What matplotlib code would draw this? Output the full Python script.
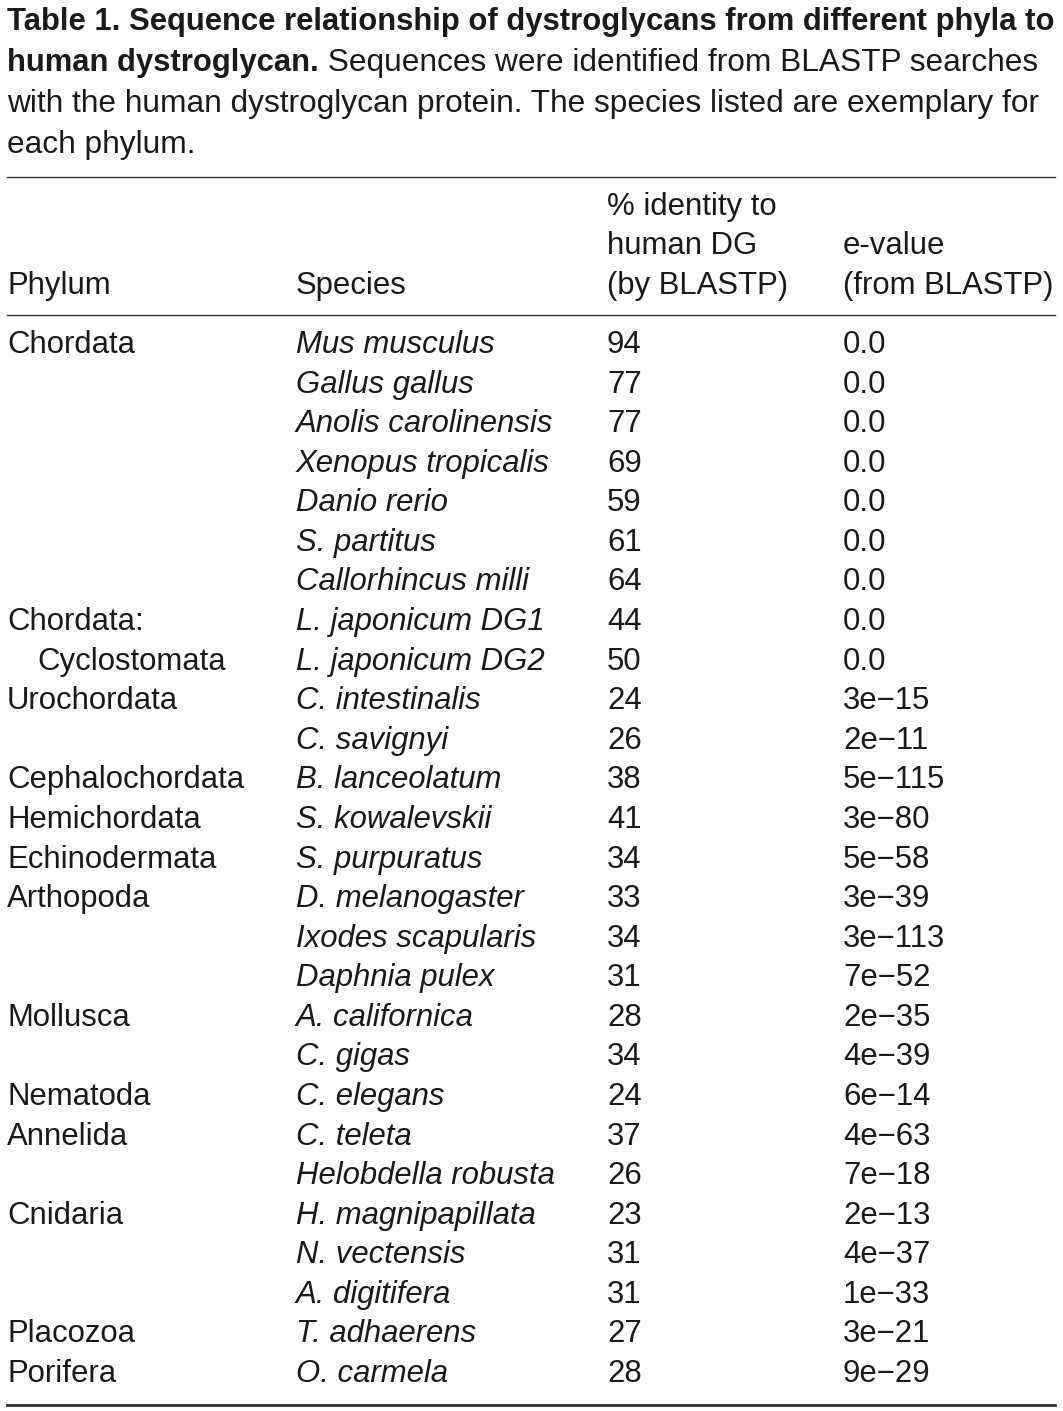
import matplotlib
matplotlib.use("Agg")
import matplotlib.pyplot as plt
from matplotlib.lines import Line2D

# --- Table data ---
phyla = ["Chordata", "", "", "", "", "", "",
         "Chordata:", "  Cyclostomata",
         "Urochordata", "",
         "Cephalochordata", "Hemichordata", "Echinodermata",
         "Arthopoda", "", "",
         "Mollusca", "",
         "Nematoda",
         "Annelida", "",
         "Cnidaria", "", "",
         "Placozoa", "Porifera"]
species = ["Mus musculus", "Gallus gallus", "Anolis carolinensis", "Xenopus tropicalis",
           "Danio rerio", "S. partitus", "Callorhincus milli",
           "L. japonicum DG1", "L. japonicum DG2",
           "C. intestinalis", "C. savignyi",
           "B. lanceolatum", "S. kowalevskii", "S. purpuratus",
           "D. melanogaster", "Ixodes scapularis", "Daphnia pulex",
           "A. californica", "C. gigas",
           "C. elegans",
           "C. teleta", "Helobdella robusta",
           "H. magnipapillata", "N. vectensis", "A. digitifera",
           "T. adhaerens", "O. carmela"]
identity = [94, 77, 77, 69, 59, 61, 64, 44, 50, 24, 26, 38, 41, 34, 33, 34, 31,
            28, 34, 24, 37, 26, 23, 31, 31, 27, 28]
evalues = ["0.0", "0.0", "0.0", "0.0", "0.0", "0.0", "0.0", "0.0", "0.0",
           "3e\u221215", "2e\u221211", "5e\u2212115", "3e\u221280", "5e\u221258",
           "3e\u221239", "3e\u2212113", "7e\u221252", "2e\u221235", "4e\u221239",
           "6e\u221214", "4e\u221263", "7e\u221218", "2e\u221213", "4e\u221237",
           "1e\u221233", "3e\u221221", "9e\u221229"]

title_bold_1 = "Table 1. Sequence relationship of dystroglycans from different phyla to"
title_bold_2 = "human dystroglycan."
title_rest_2 = " Sequences were identified from BLASTP searches"
title_lines = ["with the human dystroglycan protein. The species listed are exemplary for",
               "each phylum."]

W, H = 1063, 1411
plt.rcParams["font.family"] = ["Liberation Sans", "DejaVu Sans"]
FS = 22.4        # table body
FS_CAP = 22.8    # caption, regular
FS_BOLD = 22.3   # caption, bold

fig = plt.figure(figsize=(W / 100, H / 100), dpi=100)
fig.patch.set_facecolor("white")


def px(x, y):
    return x / W, 1 - y / H


def put(x, y, s, **kw):
    kw.setdefault("fontsize", FS)
    kw.setdefault("va", "center")
    kw.setdefault("color", "#1a1a1a")
    return fig.text(*px(x, y + 2), s, **kw)


def hline(y, lw=1.0):
    x0, y0 = px(7, y)
    x1, _ = px(1055, y)
    fig.add_artist(Line2D([x0, x1], [y0, y0], transform=fig.transFigure,
                          color="#333333", lw=lw))


# --- Caption ---
put(7, 20, title_bold_1, fontweight="bold", fontsize=FS_BOLD)
t = put(7, 61, title_bold_2, fontweight="bold", fontsize=FS_BOLD)
r = fig.canvas.get_renderer()
bb = t.get_window_extent(renderer=r)
put(bb.x1, 61, title_rest_2, fontsize=FS_CAP)
put(7, 102, title_lines[0], fontsize=FS_CAP)
put(7, 143, title_lines[1], fontsize=FS_CAP)

# --- Rules ---
hline(177, 1.0)
hline(315, 1.0)
hline(1405, 2.0)

# --- Header ---
cols = [7, 296, 607, 843]
put(cols[0], 284, "Phylum")
put(cols[1], 284, "Species")
put(cols[2], 205, "% identity to")
put(cols[2], 244, "human DG")
put(cols[2], 284, "(by BLASTP)")
put(cols[3], 244, "e-value")
put(cols[3], 284, "(from BLASTP)")

# --- Body ---
y0, dy = 343, 39.58
for i in range(len(species)):
    y = y0 + i * dy
    if phyla[i].startswith("  "):
        put(cols[0] + 30, y, phyla[i].strip())
    else:
        put(cols[0], y, phyla[i])
    put(cols[1], y, species[i], style="italic")
    put(cols[2], y, str(identity[i]))
    put(cols[3], y, evalues[i])

fig.savefig("out.png", dpi=100, facecolor="white")
